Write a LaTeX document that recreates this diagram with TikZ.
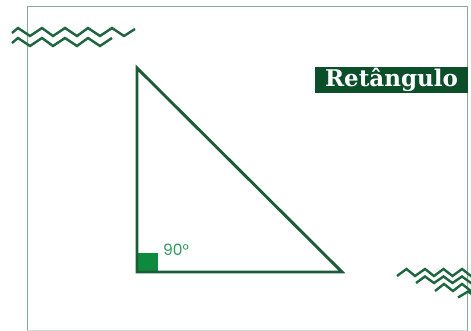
\documentclass[tikz,border=0pt]{standalone}
\usepackage{fontspec}
\newfontfamily\labelfont{DejaVu Serif}
\newfontfamily\anglefont{Poppins}
\definecolor{framecol}{HTML}{8AA898}
\definecolor{trigreen}{HTML}{1A5C36}
\definecolor{boxgreen}{HTML}{0B4F2A}
\definecolor{sqgreen}{HTML}{0E8A3E}
\definecolor{txtgreen}{HTML}{2E9A5C}
\definecolor{ziggreen}{HTML}{1E6640}
\tikzset{
  frameline/.style={draw=framecol, line width=1pt},
  triline/.style={draw=trigreen, line width=2.9pt, line join=miter},
  zig/.style={draw=ziggreen, line width=2.4pt, line join=miter},
  tagbox/.style={fill=boxgreen, text=white, minimum width=153pt, minimum height=26pt, inner sep=0pt, font=\labelfont\bfseries\fontsize{23}{24}\selectfont},
  anglelabel/.style={text=txtgreen, inner sep=0pt, anchor=south west, font=\anglefont\fontsize{15.5}{16}\selectfont}
}
\begin{document}
\begin{tikzpicture}[x=1pt,y=-1pt]
\useasboundingbox (0,0) rectangle (471,331);
\fill[white] (0,0) rectangle (471,331);
\begin{scope}
\clip (0,0) rectangle (471,331);
% frame
\draw[frameline] (27,331) -- (27,7) -- (467,7) -- (467,331);
\draw[draw=framecol!40, line width=0.8pt] (27,330.5) -- (467,330.5);
% zigzags top-left
\draw[zig] (12,33) -- (18,28) -- (30,36) -- (42,28) -- (53,36) -- (65,28) -- (77,36) -- (88,28) -- (100,36) -- (112,28) -- (124,36) -- (135,29);
\draw[zig] (12,43) -- (18,38) -- (30,46) -- (42,38) -- (53,46) -- (65,38) -- (77,46) -- (88,38) -- (100,46) -- (112,38);
% zigzags bottom-right
\draw[zig] (397,276) -- (406.5,269) -- (415,276) -- (425,269) -- (434,276) -- (443.5,269) -- (452.5,276) -- (462,269) -- (471,276) -- (480,269);
\draw[zig] (416,283) -- (425,276.5) -- (434,283) -- (443.5,276.5) -- (452.5,283) -- (462,276.5) -- (471,283) -- (480,276.5);
\draw[zig] (435,291) -- (444,284) -- (453,291) -- (462,284) -- (471,291) -- (480,284);
\draw[zig] (458,297.5) -- (468,291.5) -- (477,297.5);
\end{scope}
% triangle
\coordinate (A) at (137,68);
\coordinate (B) at (137,272);
\coordinate (C) at (342,272);
\fill[sqgreen] (137,253) rectangle (158,272);
\draw[triline] (A) -- (B) -- (C) -- cycle;
\node[anglelabel] (ang) at (163,255.5) {90°};
% label
\node[tagbox] (tag) at (391.5,80) {Retângulo};
\end{tikzpicture}
\end{document}
